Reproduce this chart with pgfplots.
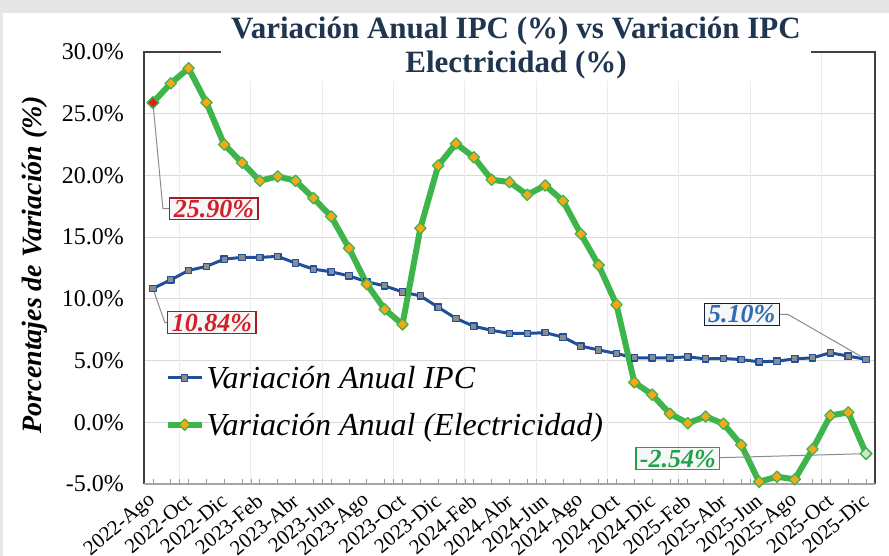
\documentclass[border=0pt]{standalone}
\usepackage{pgfplots}
\pgfplotsset{compat=1.18}
\usetikzlibrary{calc}
\usepackage{fontspec}
\setmainfont{Liberation Serif}
\definecolor{bggray}{HTML}{E6E6E6}
\definecolor{titleblue}{HTML}{1F3550}
\definecolor{ipcblue}{HTML}{1F4E9A}
\definecolor{markgray}{HTML}{8C8C8C}
\definecolor{elgreen}{HTML}{3DB54A}
\definecolor{elorange}{HTML}{F5A81C}
\definecolor{labred}{HTML}{D0202A}
\definecolor{labblue}{HTML}{2E6DB4}
\definecolor{labgreen}{HTML}{1FA34A}
\definecolor{firstred}{HTML}{E0201C}
\definecolor{lastgreen}{HTML}{CDE8C4}
\pgfdeclarelayer{background}
\pgfsetlayers{background,main}

\pgfplotstableread{
x ipc elec
0 10.84 25.90
1 11.54 27.46
2 12.30 28.68
3 12.63 25.90
4 13.22 22.50
5 13.36 21.03
6 13.36 19.57
7 13.44 19.92
8 12.90 19.57
9 12.41 18.16
10 12.19 16.67
11 11.86 14.10
12 11.38 11.19
13 11.05 9.15
14 10.56 7.93
15 10.24 15.72
16 9.32 20.80
17 8.41 22.58
18 7.78 21.47
19 7.45 19.65
20 7.20 19.46
21 7.20 18.43
22 7.26 19.19
23 6.90 17.94
24 6.17 15.26
25 5.86 12.73
26 5.57 9.53
27 5.22 3.24
28 5.22 2.24
29 5.22 0.69
30 5.30 -0.07
31 5.14 0.47
32 5.17 -0.12
33 5.08 -1.83
34 4.90 -4.82
35 4.95 -4.41
36 5.14 -4.62
37 5.22 -2.18
38 5.63 0.55
39 5.36 0.80
40 5.10 -2.54
}\datatable

\begin{document}
\begin{tikzpicture}[x=1pt,y=1pt]
\begin{axis}[
  scale only axis, width=731pt, height=432pt,
  xmin=-0.5, xmax=40.5,
  ymin=-5, ymax=30,
  ytick={-5,0,5,10,15,20,25,30},
  /pgf/number format/assume math mode=true,
  yticklabel={\pgfmathprintnumber[fixed,fixed zerofill,precision=1]{\tick}\%},
  yticklabel style={font=\fontsize{24}{28}\selectfont, anchor=east, inner sep=0pt, xshift=-20pt},
  ytick style={draw=none},
  ymajorgrids, major grid style={draw=black!15, line width=1.2pt},
  xtick={0,2,...,40},
  minor xtick={1,3,...,39},
  xticklabels={2022-Ago,2022-Oct,2022-Dic,2023-Feb,2023-Abr,2023-Jun,2023-Ago,2023-Oct,2023-Dic,2024-Feb,2024-Abr,2024-Jun,2024-Ago,2024-Oct,2024-Dic,2025-Feb,2025-Abr,2025-Jun,2025-Ago,2025-Oct,2025-Dic},
  xticklabel style={font=\fontsize{21}{24}\selectfont, rotate=40, anchor=east, inner sep=0pt},
  xticklabel shift=14pt,
  x tick style={draw=black!40, line width=0.8pt},
  xtick pos=bottom, tick align=inside,
  major tick length=5pt, minor tick length=5pt,
  extra x ticks={1.5,5.5,...,37.5},
  extra x tick labels={},
  extra x tick style={grid=major, major grid style={draw=black!8, line width=1pt}, tick style={draw=none}},
  axis line style={draw=none},
  clip=false,
  ylabel={\bfseries\itshape Porcentajes de Variación (\%)},
  ylabel style={font=\fontsize{28}{32}\selectfont, at={(rel axis cs:-0.149,0.507)}, anchor=center},
  legend style={at={(rel axis cs:0.028,0.278)}, anchor=north west, draw=none, fill=none,
    font=\fontsize{32}{36}\selectfont\itshape, row sep=19pt, inner sep=0pt},
  legend cell align=left,
  legend image code/.code={\draw[mark repeat=2,mark phase=2,#1] plot coordinates {(0pt,0pt) (17pt,0pt) (34pt,0pt)};},
]
\coordinate (axSW) at (rel axis cs:0,0);
\draw[black!75, line width=1.3pt] (rel axis cs:0,0) -- (rel axis cs:0,1) -- (rel axis cs:1,1) -- (rel axis cs:1,0);
\draw[black!35, line width=1.3pt] (rel axis cs:0,0) -- (rel axis cs:1,0);

\addplot[ipcblue, line width=3pt, line join=round, mark=square*, mark size=3.2pt,
  mark options={fill=markgray, draw=ipcblue, line width=1.2pt, solid}]
  table[x=x, y=ipc] {\datatable};
\addlegendentry{Variación Anual IPC}

\addplot[elgreen, line width=6pt, line join=round, mark=square*, mark size=4pt,
  mark options={fill=elorange, draw=elgreen, line width=1.3pt, rotate=45, solid}]
  table[x=x, y=elec] {\datatable};
\addlegendentry{Variación Anual (Electricidad)}

\addplot[only marks, mark=square*, mark size=4pt, mark options={fill=firstred, draw=elgreen, line width=1.3pt, rotate=45}, forget plot]
  coordinates {(0,25.90)};
\addplot[only marks, mark=square*, mark size=4pt, mark options={fill=lastgreen, draw=elgreen, line width=1.3pt, rotate=45}, forget plot]
  coordinates {(40,-2.54)};

% annotations
\draw[black!45, line width=1pt] (axis cs:0,25.90) -- (axis cs:0.56,17.3) -- (axis cs:1.0,17.3);
\node[draw=labred!80!black, line width=1.2pt, fill=black!3, inner xsep=4pt, inner ysep=2pt,
  text=labred, font=\fontsize{26}{30}\selectfont\bfseries\itshape] at (axis cs:3.42,17.3) {25.90\%};
\draw[black!45, line width=1pt] (axis cs:0,10.84) -- (axis cs:0.67,8.07) -- (axis cs:1.0,8.07);
\node[draw=labred!80!black, line width=1.2pt, fill=black!3, inner xsep=4pt, inner ysep=2pt,
  text=labred, font=\fontsize{26}{30}\selectfont\bfseries\itshape] at (axis cs:3.31,8.07) {10.84\%};
\draw[black!45, line width=1pt] (axis cs:40,5.10) -- (axis cs:35.6,8.75) -- (axis cs:34.5,8.75);
\node[draw=black!60!ipcblue, line width=1.2pt, fill=black!3, inner xsep=4pt, inner ysep=2pt,
  text=labblue, font=\fontsize{26}{30}\selectfont\bfseries\itshape] at (axis cs:33.03,8.75) {5.10\%};
\draw[black!45, line width=1pt] (axis cs:40,-2.54) -- (axis cs:31,-2.9);
\node[draw=labgreen, line width=1.2pt, fill=black!3, inner xsep=4pt, inner ysep=2pt,
  text=labgreen, font=\fontsize{26}{30}\selectfont\bfseries\itshape] at (axis cs:29.44,-2.94) {-2.54\%};
\end{axis}
\node[fill=white, align=center, text=titleblue, inner xsep=10pt, inner ysep=2pt,
  font=\fontsize{31}{34}\selectfont\bfseries] at ($(axSW)+(372,436)$)
  {Variación Anual IPC (\%) vs Variación IPC\\Electricidad (\%)};
\begin{pgfonlayer}{background}
\fill[bggray] ($(axSW)+(-144,-72)$) rectangle ++(889,556);
\fill[white] ($(axSW)+(-141,-72)$) rectangle ++(886,543);
\end{pgfonlayer}
\pgfresetboundingbox
\path[use as bounding box] ($(axSW)+(-144,-72)$) rectangle ++(889,556);
\end{tikzpicture}
\end{document}
